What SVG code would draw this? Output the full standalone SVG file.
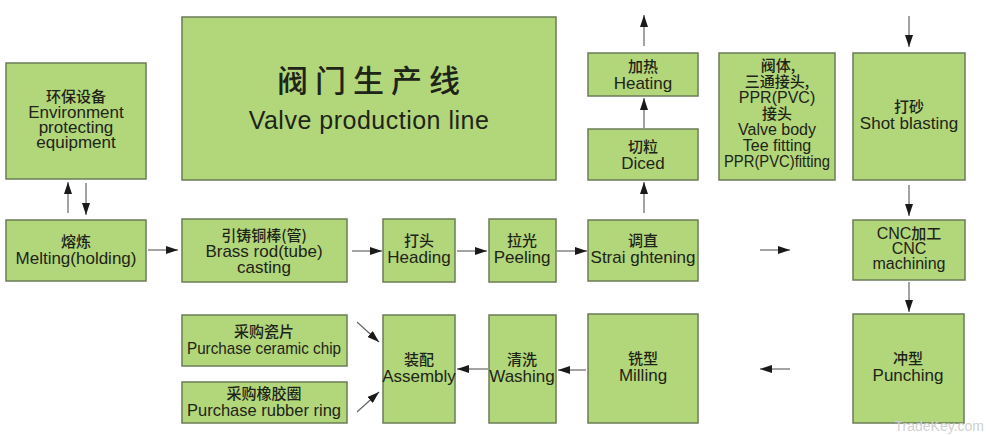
<svg xmlns="http://www.w3.org/2000/svg" width="986" height="435" viewBox="0 0 986 435">
<defs>
<marker id="ah" viewBox="0 0 12 8" refX="12" refY="4" markerWidth="12" markerHeight="8" markerUnits="userSpaceOnUse" orient="auto">
<path d="M0,0 L12,4 L0,8 z" fill="#1a1a1a"/>
</marker>
<style>
.box{fill:#b2d67a;stroke:#6b7c56;stroke-width:1.5}
text{font-family:"Liberation Sans","Noto Sans CJK SC",sans-serif;font-size:17px;fill:#1e2418;text-anchor:middle}
.cn{font-family:"Noto Sans CJK SC",sans-serif;font-size:15px;font-weight:500}
.sm{font-size:16px}
.conn line{stroke:#666;stroke-width:1.2;marker-end:url(#ah)}
</style>
</defs>
<rect width="986" height="435" fill="#ffffff"/>

<g id="title">
<rect class="box" x="182" y="17" width="374" height="163"/>
<text x="372" y="92" class="cn" style="font-size:31px;letter-spacing:7px;font-weight:500">阀门生产线</text>
<text x="369" y="129" style="font-size:25px;letter-spacing:0.5px">Valve production line</text>
</g>

<g id="env">
<rect class="box" x="6" y="63" width="140" height="116"/>
<text x="76" y="102" class="cn">环保设备</text>
<text x="76" y="118">Environment</text>
<text x="76" y="133">protecting</text>
<text x="76" y="148">equipment</text>
</g>

<g id="melting">
<rect class="box" x="6" y="220" width="140" height="61"/>
<text x="76" y="247" class="cn">熔炼</text>
<text x="76" y="264">Melting(holding)</text>
</g>

<g id="brass">
<rect class="box" x="182" y="219" width="165" height="63"/>
<text x="264" y="241" class="cn">引铸铜棒(管)</text>
<text x="264" y="257">Brass rod(tube)</text>
<text x="264" y="273">casting</text>
</g>

<g id="heading">
<rect class="box" x="383" y="219" width="72" height="63"/>
<text x="419" y="246" class="cn">打头</text>
<text x="419" y="263">Heading</text>
</g>

<g id="peeling">
<rect class="box" x="489" y="219" width="67" height="63"/>
<text x="522" y="246" class="cn">拉光</text>
<text x="522" y="263">Peeling</text>
</g>

<g id="straightening">
<rect class="box" x="588" y="220" width="110" height="61"/>
<text x="643" y="246" class="cn">调直</text>
<text x="643" y="263">Strai ghtening</text>
</g>

<g id="diced">
<rect class="box" x="588" y="129" width="110" height="51"/>
<text x="643" y="152" class="cn">切粒</text>
<text x="643" y="169">Diced</text>
</g>

<g id="heating">
<rect class="box" x="588" y="53" width="110" height="43"/>
<text x="643" y="72" class="cn">加热</text>
<text x="643" y="89">Heating</text>
</g>

<g id="valvebody">
<rect class="box" x="719" y="53" width="116" height="127"/>
<text x="778" y="71" class="cn">阀体,</text>
<text x="777" y="87" class="cn">三通接头,</text>
<text x="777" y="103" class="sm">PPR(PVC)</text>
<text x="777" y="119" class="cn">接头</text>
<text x="777" y="135" class="sm">Valve body</text>
<text x="777" y="151" class="sm">Tee fitting</text>
<text x="777" y="167" class="sm" textLength="106" lengthAdjust="spacingAndGlyphs">PPR(PVC)fitting</text>
</g>

<g id="shot">
<rect class="box" x="853" y="53" width="112" height="127"/>
<text x="909" y="112" class="cn">打砂</text>
<text x="909" y="129">Shot blasting</text>
</g>

<g id="cnc">
<rect class="box" x="853" y="220" width="112" height="60"/>
<text x="909" y="239" class="sm">CNC<tspan style="font-family:'Noto Sans CJK SC',sans-serif;font-size:15px;font-weight:500">加工</tspan></text>
<text x="909" y="254" class="sm">CNC</text>
<text x="909" y="269" class="sm">machining</text>
</g>

<g id="punching">
<rect class="box" x="853" y="314" width="111" height="109"/>
<text x="908" y="364" class="cn">冲型</text>
<text x="908" y="381">Punching</text>
</g>

<g id="milling">
<rect class="box" x="588" y="314" width="110" height="109"/>
<text x="643" y="364" class="cn">铣型</text>
<text x="643" y="381">Milling</text>
</g>

<g id="washing">
<rect class="box" x="489" y="315" width="67" height="108"/>
<text x="522" y="365" class="cn">清洗</text>
<text x="522" y="382">Washing</text>
</g>

<g id="assembly">
<rect class="box" x="383" y="315" width="72" height="108"/>
<text x="419" y="365" class="cn">装配</text>
<text x="419" y="382">Assembly</text>
</g>

<g id="ceramic">
<rect class="box" x="182" y="315" width="165" height="51"/>
<text x="264" y="337" class="cn">采购瓷片</text>
<text x="264" y="354" textLength="154" lengthAdjust="spacingAndGlyphs">Purchase ceramic chip</text>
</g>

<g id="rubber">
<rect class="box" x="182" y="382" width="165" height="41"/>
<text x="264" y="399" class="cn">采购橡胶圈</text>
<text x="264" y="416" textLength="154" lengthAdjust="spacingAndGlyphs">Purchase rubber ring</text>
</g>

<g id="connectors" class="conn">
<line x1="68" y1="213" x2="68" y2="182"/>
<line x1="86" y1="183" x2="86" y2="215"/>
<line x1="148" y1="250" x2="178" y2="250"/>
<line x1="352" y1="251" x2="382" y2="251"/>
<line x1="457" y1="251" x2="487" y2="251"/>
<line x1="557" y1="251" x2="587" y2="251"/>
<line x1="644" y1="213" x2="644" y2="182"/>
<line x1="644" y1="128" x2="644" y2="98"/>
<line x1="644" y1="46" x2="644" y2="15"/>
<line x1="760" y1="250" x2="790" y2="250"/>
<line x1="909" y1="16" x2="909" y2="47"/>
<line x1="909" y1="185" x2="909" y2="216"/>
<line x1="909" y1="282" x2="909" y2="312"/>
<line x1="790" y1="369" x2="760" y2="369"/>
<line x1="586" y1="370" x2="558" y2="370"/>
<line x1="488" y1="369" x2="457" y2="369"/>
<line x1="357" y1="322" x2="379" y2="342"/>
<line x1="357" y1="412" x2="379" y2="392"/>
</g>

<text x="984" y="431" style="font-size:14px;fill:#d0d0d0;text-anchor:end">TradeKey.com</text>
</svg>
